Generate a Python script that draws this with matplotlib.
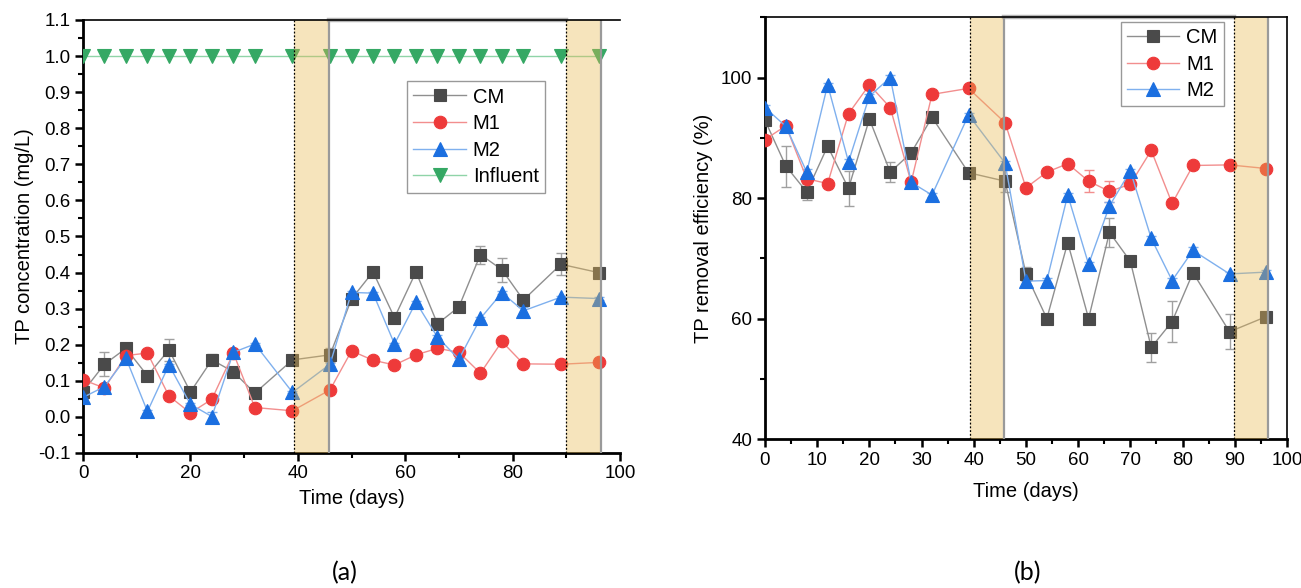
import matplotlib
matplotlib.use("Agg")
import matplotlib.pyplot as plt
from matplotlib.ticker import MultipleLocator, FormatStrFormatter

plt.rcParams['font.family'] = ['Liberation Sans', 'DejaVu Sans']

# Sampling days
days = [0, 4, 8, 12, 16, 20, 24, 28, 32, 39, 46, 50, 54, 58, 62, 66, 70, 74, 78, 82, 89, 96]

# (a) TP concentration (mg/L)
cm_conc = [0.070, 0.146, 0.190, 0.114, 0.186, 0.069, 0.158, 0.125, 0.066, 0.158, 0.172,
           0.327, 0.402, 0.275, 0.402, 0.258, 0.305, 0.450, 0.408, 0.324, 0.423, 0.400]
cm_conc_err = [0.005, 0.034, 0.010, 0.004, 0.030, 0.004, 0.015, 0.006, 0.004, 0.004, 0.020,
               0.008, 0.004, 0.004, 0.004, 0.015, 0.004, 0.025, 0.033, 0.010, 0.031, 0.004]
m1_conc = [0.103, 0.080, 0.170, 0.177, 0.058, 0.011, 0.049, 0.177, 0.026, 0.017, 0.075,
           0.183, 0.157, 0.144, 0.172, 0.190, 0.179, 0.121, 0.209, 0.147, 0.146, 0.151]
m1_conc_err = [0.004, 0.006, 0.006, 0.003, 0.004, 0.003, 0.003, 0.006, 0.003, 0.003, 0.004,
               0.004, 0.004, 0.004, 0.010, 0.010, 0.004, 0.004, 0.004, 0.004, 0.004, 0.004]
m2_conc = [0.054, 0.084, 0.163, 0.015, 0.144, 0.035, 0.001, 0.179, 0.202, 0.068, 0.146,
           0.345, 0.343, 0.202, 0.318, 0.221, 0.160, 0.273, 0.344, 0.294, 0.332, 0.328]
m2_conc_err = [0.004, 0.006, 0.006, 0.003, 0.004, 0.003, 0.012, 0.004, 0.003, 0.003, 0.004,
               0.004, 0.004, 0.004, 0.004, 0.006, 0.004, 0.004, 0.004, 0.010, 0.004, 0.004]
influent_conc = [1.0] * len(days)

# (b) TP removal efficiency (%)
cm_eff = [92.9, 85.3, 81.0, 88.6, 81.6, 93.1, 84.3, 87.5, 93.4, 84.2, 82.8,
          67.4, 60.0, 72.6, 60.0, 74.3, 69.5, 55.2, 59.5, 67.6, 57.8, 60.3]
cm_eff_err = [0.4, 3.4, 1.3, 0.4, 2.9, 0.4, 1.7, 0.6, 0.4, 0.4, 1.8,
              1.2, 0.4, 0.4, 0.4, 2.4, 0.4, 2.4, 3.4, 0.4, 2.9, 0.4]
m1_eff = [89.7, 92.0, 83.2, 82.4, 94.0, 98.8, 95.0, 82.6, 97.2, 98.2, 92.5,
          81.7, 84.3, 85.7, 82.8, 81.1, 82.3, 87.9, 79.1, 85.4, 85.5, 84.9]
m1_eff_err = [0.4, 0.6, 0.6, 0.3, 0.4, 0.3, 0.6, 0.4, 0.3, 0.3, 0.4,
              0.4, 0.4, 0.4, 1.8, 1.7, 0.8, 0.4, 0.4, 0.4, 0.4, 0.4]
m2_eff = [95.0, 91.9, 84.3, 98.8, 86.0, 96.9, 100.0, 82.6, 80.5, 93.8, 85.8,
          66.2, 66.3, 80.5, 69.0, 78.7, 84.5, 73.3, 66.3, 71.3, 67.4, 67.7]
m2_eff_err = [0.4, 0.6, 0.6, 0.3, 0.4, 0.3, 0.4, 0.4, 0.3, 0.3, 0.4,
              0.4, 0.4, 0.4, 0.4, 0.6, 0.4, 0.4, 0.4, 0.6, 0.4, 0.4]

# Shaded periods (days)
periods = [(39.2, 45.8), (89.9, 96.4)]

series_style = {
    'CM':       dict(marker='s', mfc='#4a4a4a', mec='#4a4a4a', line='#8f8f8f', err='#a0a0a0', ms=8.5),
    'M1':       dict(marker='o', mfc='#ee3a3a', mec='#ee3a3a', line='#f28e8e', err='#f28e8e', ms=9.0),
    'M2':       dict(marker='^', mfc='#1b6fe0', mec='#1b6fe0', line='#7fb0ee', err='#7fb0ee', ms=9.5),
    'Influent': dict(marker='v', mfc='#35a864', mec='#35a864', line='#8fd4a8', err='#8fd4a8', ms=9.5),
}

band_face = '#e8b850'
band_alpha = 0.38


def draw_series(ax, name, y, yerr=None):
    st = series_style[name]
    if yerr is not None:
        ax.errorbar(days, y, yerr=yerr, fmt='none', ecolor=st['err'], elinewidth=1.0,
                    capsize=3.5, capthick=1.0, zorder=2)
    ax.plot(days, y, color=st['line'], lw=1.0, marker=st['marker'], ms=st['ms'],
            mfc=st['mfc'], mec=st['mec'], mew=0.8, label=name, zorder=3)


def draw_periods(ax, ymin, ymax):
    for x0, x1 in periods:
        ax.axvspan(x0, x1, facecolor=band_face, alpha=band_alpha, lw=0, zorder=4)
        ax.plot([x0, x0], [ymin, ymax], color='black', lw=0.9, ls=(0, (1.5, 1.5)), zorder=5)
        ax.plot([x1, x1], [ymin, ymax], color='#9a9a9a', lw=1.6, zorder=5)
    # light frame along the top between the two periods
    ax.plot([periods[0][1], periods[1][0]], [ymax, ymax], color='#b5b5b5', lw=3.2, zorder=1.5,
            clip_on=False)


def style_axes(ax, right_spine):
    for side in ('left', 'bottom'):
        ax.spines[side].set_linewidth(2.0)
    ax.spines['top'].set_linewidth(1.2)
    ax.spines['top'].set_zorder(6)
    ax.spines['right'].set_visible(right_spine)
    ax.spines['right'].set_linewidth(1.2)
    ax.tick_params(which='major', direction='out', length=6, width=1.8, labelsize=13.5,
                   top=False, right=False, pad=3)
    ax.tick_params(which='minor', direction='out', length=3.5, width=1.5, top=False, right=False)


def add_legend(ax, anchor):
    leg = ax.legend(loc='upper left', bbox_to_anchor=anchor, fontsize=14.5,
                    frameon=True, fancybox=False, edgecolor='#808080', borderpad=0.3,
                    labelspacing=0.38, handlelength=2.6, handletextpad=0.35, borderaxespad=0)
    leg.get_frame().set_linewidth(1.0)
    leg.set_zorder(7)
    return leg


fig = plt.figure(figsize=(13.01, 5.88), dpi=100)

# ---- (a) concentration ----
ax1 = fig.add_axes([0.0638, 0.2296, 0.4128, 0.7364])
draw_series(ax1, 'CM', cm_conc, cm_conc_err)
draw_series(ax1, 'M1', m1_conc, m1_conc_err)
draw_series(ax1, 'M2', m2_conc, m2_conc_err)
draw_series(ax1, 'Influent', influent_conc)
ax1.set_xlim(0, 100)
ax1.set_ylim(-0.1, 1.1)
draw_periods(ax1, -0.1, 1.1)
ax1.xaxis.set_major_locator(MultipleLocator(20))
ax1.xaxis.set_minor_locator(MultipleLocator(10))
ax1.yaxis.set_major_locator(MultipleLocator(0.1))
ax1.yaxis.set_minor_locator(MultipleLocator(0.05))
ax1.yaxis.set_major_formatter(FormatStrFormatter('%.1f'))
style_axes(ax1, right_spine=False)
ax1.set_xlabel('Time (days)', fontsize=14.5, labelpad=5)
ax1.set_ylabel('TP concentration (mg/L)', fontsize=14.5, labelpad=3)
add_legend(ax1, (0.604, 0.858))

# ---- (b) removal efficiency ----
ax2 = fig.add_axes([0.588, 0.2534, 0.4012, 0.7172])
draw_series(ax2, 'CM', cm_eff, cm_eff_err)
draw_series(ax2, 'M1', m1_eff, m1_eff_err)
draw_series(ax2, 'M2', m2_eff, m2_eff_err)
ax2.set_xlim(0, 100)
ax2.set_ylim(40, 110)
draw_periods(ax2, 40, 110)
ax2.xaxis.set_major_locator(MultipleLocator(10))
ax2.xaxis.set_minor_locator(MultipleLocator(5))
ax2.yaxis.set_major_locator(MultipleLocator(20))
ax2.yaxis.set_minor_locator(MultipleLocator(10))
style_axes(ax2, right_spine=True)
ax2.set_xlabel('Time (days)', fontsize=14.5, labelpad=10)
ax2.set_ylabel('TP removal efficiency (%)', fontsize=14.5, labelpad=6)
add_legend(ax2, (0.682, 0.989))

fig.text(345 / 1301, 1 - 573 / 588, '(a)', fontsize=18, family=['Lato', 'DejaVu Sans'],
         ha='center', va='center')
fig.text(1028 / 1301, 1 - 573 / 588, '(b)', fontsize=18, family=['Lato', 'DejaVu Sans'],
         ha='center', va='center')

fig.savefig('out.png', dpi=100, facecolor='white')
